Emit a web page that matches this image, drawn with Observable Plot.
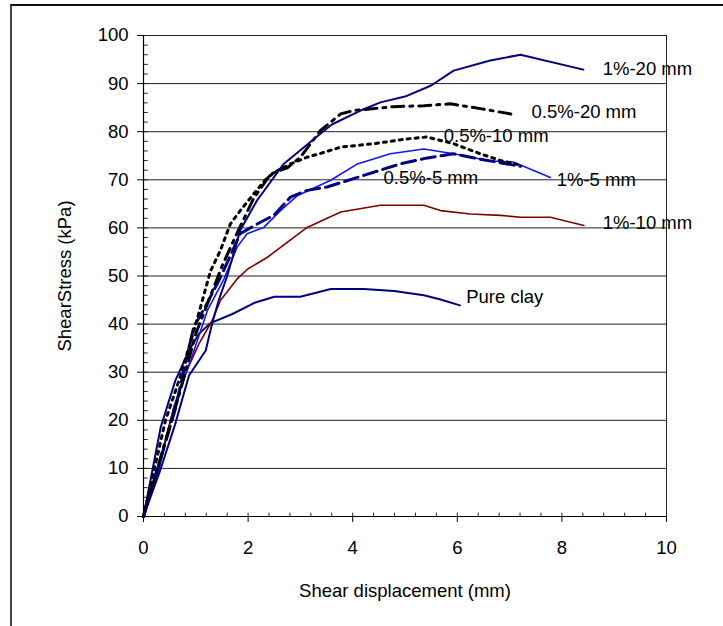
<!DOCTYPE html>
<html>
<head>
<meta charset="utf-8">
<script src="https://cdn.jsdelivr.net/npm/d3@7"></script>
<script src="https://cdn.jsdelivr.net/npm/@observablehq/plot@0.6"></script>
<style>
  body { margin: 0; background: #fff; width: 723px; height: 626px; overflow: hidden; position: relative; }
  #frame { position: absolute; left: 10px; top: 4px; width: 730px; height: 640px; border-left: 2px solid #444; border-top: 2px solid #111; }
  #chart { position: absolute; left: 0; top: 0; }
</style>
</head>
<body>
<div id="frame"></div>
<div id="chart"></div>
<script>
// ---- data ----
const pureClayX = [0, 0.33, 0.61, 0.87, 1.06, 1.28, 1.7, 2.14, 2.5, 3.0, 3.58, 4.21, 4.79, 5.36, 5.68, 6.05];
const pureClayY = [0, 18.6, 28.3, 34.5, 38, 40.2, 42.1, 44.5, 45.7, 45.7, 47.3, 47.3, 46.9, 46.0, 45.1, 43.9];

const p1_20X = [0, 0.3, 0.6, 0.87, 1.19, 1.31, 1.44, 1.6, 1.85, 2.17, 2.68, 3.26, 3.6, 4.15, 4.53, 5.0, 5.5, 5.93, 6.63, 7.21, 8.41];
const p1_20Y = [0, 9, 19, 29.3, 34.5, 40, 45, 50, 59.5, 65.7, 73.3, 78.5, 81.5, 84.4, 86.1, 87.3, 89.6, 92.7, 94.8, 96.0, 92.9];

const p05_20X = [0, 0.4, 0.7, 1.0, 1.25, 1.5, 1.75, 2.1, 2.43, 2.75, 3.0, 3.38, 3.77, 4.02, 4.78, 5.36, 5.87, 6.44, 7.07];
const p05_20Y = [0, 15, 26, 38, 45, 52, 58, 66, 71.2, 72.5, 74.7, 80.2, 83.7, 84.4, 85.2, 85.4, 85.8, 84.8, 83.6];

const p05_10X = [0, 0.42, 0.68, 1.0, 1.28, 1.47, 1.66, 1.85, 2.11, 2.37, 2.56, 2.81, 3.13, 3.45, 3.77, 4.4, 5.04, 5.42, 5.93, 6.44, 6.83, 7.14];
const p05_10Y = [0, 20, 28.3, 40, 51, 55.3, 60.8, 63.6, 67.1, 70.5, 71.9, 73.3, 74.7, 75.7, 76.8, 77.5, 78.5, 78.9, 77.5, 75.4, 74.0, 73.2];

const p1_5X = [0, 0.3, 0.58, 0.9, 1.22, 1.54, 1.79, 1.98, 2.3, 2.62, 2.94, 3.58, 4.09, 4.72, 5.36, 5.93, 6.63, 7.07, 7.78];
const p1_5Y = [0, 10, 22.7, 32.4, 42.8, 49.4, 56, 58.8, 60.1, 63.6, 66.7, 69.9, 73.3, 75.4, 76.4, 75.4, 73.9, 73.7, 70.5];

const p05_5X = [0, 0.3, 0.6, 0.96, 1.2, 1.47, 1.85, 2.17, 2.49, 2.81, 3.13, 3.51, 4.09, 4.91, 5.4, 5.93, 6.38, 7.21];
const p05_5Y = [0, 11, 22, 39.4, 44, 49.7, 58.8, 60.8, 62.6, 66.4, 67.8, 68.5, 70.5, 73.3, 74.5, 75.4, 74.4, 72.8];

const p1_10X = [0, 0.3, 0.58, 0.8, 1.06, 1.31, 1.47, 1.79, 2.0, 2.37, 3.13, 3.77, 4.53, 5.36, 5.68, 6.25, 6.83, 7.21, 7.78, 8.42];
const p1_10Y = [0, 11, 22.7, 29.7, 35.9, 40.7, 44.9, 49.4, 51.5, 53.9, 60.1, 63.3, 64.7, 64.7, 63.6, 62.9, 62.6, 62.2, 62.2, 60.5];

const labelNames = ["1%-20 mm", "0.5%-20 mm", "0.5%-10 mm", "0.5%-5 mm", "1%-5 mm", "1%-10 mm", "Pure clay"];
const labelX = [8.78, 7.42, 5.74, 4.59, 7.9, 8.78, 6.17];
const labelY = [93.0, 84.0, 79.1, 70.3, 70.0, 60.9, 45.6];

const xTicks = [0, 2, 4, 6, 8, 10];
const yTicks = [0, 10, 20, 30, 40, 50, 60, 70, 80, 90, 100];
const xMinor = d3.range(0, 10.01, 0.4).map(v => +v.toFixed(1));
const yMinor = d3.range(0, 101, 2);

function pts(xs, ys) { return xs.map((x, i) => ({x, y: ys[i]})); }

const series = [
  {data: pts(pureClayX, pureClayY), stroke: "#000080", strokeWidth: 2, dash: null},
  {data: pts(p1_10X, p1_10Y), stroke: "#800000", strokeWidth: 1.6, dash: null},
  {data: pts(p1_5X, p1_5Y), stroke: "#1414ff", strokeWidth: 1.6, dash: null},
  {data: pts(p05_5X, p05_5Y), stroke: "#000080", strokeWidth: 3, dash: "14,6"},
  {data: pts(p05_10X, p05_10Y), stroke: "#000", strokeWidth: 3, dash: "3,5"},
  {data: pts(p05_20X, p05_20Y), stroke: "#000", strokeWidth: 3, dash: "12,6,3,6"},
  {data: pts(p1_20X, p1_20Y), stroke: "#000080", strokeWidth: 2, dash: null}
];

const labels = labelNames.map((t, i) => ({t, x: labelX[i], y: labelY[i]}));

const chart = Plot.plot({
  width: 723,
  height: 626,
  marginLeft: 143,
  marginRight: 57,
  marginTop: 35,
  marginBottom: 110,
  style: {fontFamily: "'Liberation Sans', Arial, sans-serif", fontSize: "18.5px", color: "#000", background: "transparent", overflow: "visible"},
  x: {domain: [0, 10]},
  y: {domain: [0, 100]},
  marks: [
    Plot.ruleY(yTicks.filter(d => d > 0), {stroke: "#222", strokeWidth: 1}),
    Plot.ruleX([10], {stroke: "#222", strokeWidth: 1}),
    Plot.ruleY(yMinor, {x1: 0, x2: 0.09, stroke: "#222", strokeWidth: 1}),
    Plot.ruleX(xMinor, {y1: 0, y2: 0.7, stroke: "#222", strokeWidth: 1}),
    Plot.axisY({ticks: yTicks, tickSize: 6, tickPadding: 9, stroke: "#000", fontSize: 18.5, label: "ShearStress (kPa)", labelAnchor: "center", labelOffset: 86, labelArrow: "none"}),
    Plot.axisX({ticks: xTicks, tickSize: 6, tickPadding: 18, stroke: "#000", fontSize: 18.5, label: "Shear displacement (mm)", labelAnchor: "center", labelOffset: 80, labelArrow: "none"}),
    ...series.map(s => Plot.line(s.data, {x: "x", y: "y", stroke: s.stroke, strokeWidth: s.strokeWidth, strokeDasharray: s.dash, strokeLinejoin: "round"})),
    Plot.ruleY([0], {stroke: "#000", strokeWidth: 1.2}),
    Plot.ruleX([0], {stroke: "#000", strokeWidth: 1.2}),
    Plot.text(labels, {x: "x", y: "y", text: "t", textAnchor: "start", fontSize: 18.5, fill: "#000"})
  ]
});
document.getElementById("chart").appendChild(chart);
</script>
</body>
</html>
